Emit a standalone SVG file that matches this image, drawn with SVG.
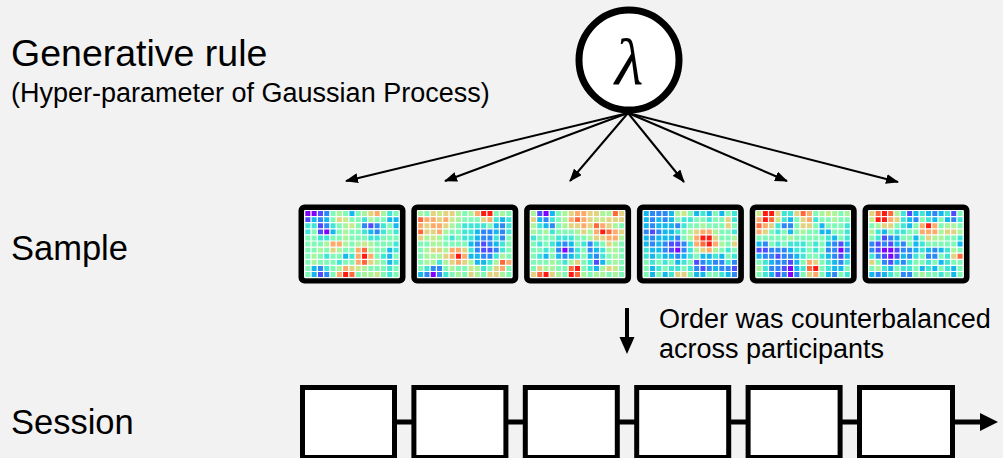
<svg xmlns="http://www.w3.org/2000/svg" xmlns:xlink="http://www.w3.org/1999/xlink" width="1003" height="458" viewBox="0 0 1003 458">
<style>
.t{font-family:"Liberation Sans",Arial,sans-serif;fill:#000}
.frame{fill:#fff;stroke:#000;stroke-width:6}
.box{fill:#fff;stroke:#000;stroke-width:5}
.hm rect{width:1px;height:1px}
.hm .bg{width:15px;height:11px;fill:#7ef9b6}
.p{fill:#7f00ff}.v{fill:#4f4bff}.b{fill:#2e87f7}.l{fill:#13b9ee}.c{fill:#3ee6d6}.g{fill:#a9f59b}.y{fill:#c9ea88}.k{fill:#e3d27f}.o{fill:#fdaa6a}.r{fill:#ff6838}.x{fill:#ff1a12}
.fan{stroke:#000;stroke-width:2;fill:none;marker-end:url(#ah)}
</style>
<defs>
<marker id="ah" markerWidth="13" markerHeight="10" refX="12" refY="5" orient="auto" markerUnits="userSpaceOnUse"><path d="M0 0L13 5L0 10z" fill="#000"/></marker>
<path id="grid" fill="none" stroke="#fff" stroke-width=".2" d="M0 0V11M1 0V11M2 0V11M3 0V11M4 0V11M5 0V11M6 0V11M7 0V11M8 0V11M9 0V11M10 0V11M11 0V11M12 0V11M13 0V11M14 0V11M15 0V11M0 0H15M0 1H15M0 2H15M0 3H15M0 4H15M0 5H15M0 6H15M0 7H15M0 8H15M0 9H15M0 10H15M0 11H15"/>
</defs>
<rect width="1003" height="458" fill="#f2f2f2"/>

<g id="label-rule">
<text class="t" x="11" y="66" font-size="37.5">Generative rule</text>
<text class="t" x="11" y="102" font-size="27">(Hyper-parameter of Gaussian Process)</text>
</g>
<g id="label-sample"><text class="t" x="11" y="260" font-size="34.5">Sample</text></g>
<g id="label-session"><text class="t" x="11" y="434" font-size="34.5">Session</text></g>
<g id="label-order">
<text class="t" x="659" y="328" font-size="27">Order was counterbalanced</text>
<text class="t" x="659" y="358" font-size="27">across participants</text>
</g>

<g id="connectors">
<line class="fan" x1="628" y1="113" x2="346" y2="181"/>
<line class="fan" x1="628" y1="113" x2="445" y2="181"/>
<line class="fan" x1="628" y1="113" x2="570" y2="181"/>
<line class="fan" x1="628" y1="113" x2="684" y2="182"/>
<line class="fan" x1="628" y1="113" x2="787" y2="181"/>
<line class="fan" x1="628" y1="113" x2="898" y2="182"/>
<line x1="627" y1="308" x2="627" y2="340" stroke="#000" stroke-width="4"/>
<path d="M619.5 337H634.5L627 354Z" fill="#000"/>
<line x1="397" y1="422" x2="982" y2="422" stroke="#000" stroke-width="5"/>
<path d="M980 413L998 422L980 431Z" fill="#000"/>
</g>

<g id="lambda">
<circle cx="629" cy="60" r="50" fill="#fff" stroke="#000" stroke-width="7"/>
<text x="629" y="84" font-size="66" font-style="italic" text-anchor="middle" font-family="'Liberation Serif','Times New Roman',serif">λ</text>
</g>

<g id="sample1">
<rect class="frame" x="301.5" y="207.5" width="101" height="73" rx="3"/>
<g class="hm" transform="translate(304.7,210.5) scale(6.3,6.1)">
<rect class="bg"/>
<rect x="0" y="0" class="p"/><rect x="1" y="0" class="p"/><rect x="2" y="0" class="v"/><rect x="3" y="0" class="b"/><rect x="5" y="0" class="g"/><rect x="7" y="0" class="l"/><rect x="9" y="0" class="g"/><rect x="10" y="0" class="k"/><rect x="11" y="0" class="o"/><rect x="12" y="0" class="g"/><rect x="13" y="0" class="c"/>
<rect x="0" y="1" class="v"/><rect x="1" y="1" class="l"/><rect x="2" y="1" class="b"/><rect x="3" y="1" class="l"/><rect x="5" y="1" class="k"/><rect x="6" y="1" class="y"/><rect x="9" y="1" class="c"/><rect x="10" y="1" class="g"/><rect x="13" y="1" class="l"/><rect x="14" y="1" class="l"/>
<rect x="0" y="2" class="c"/><rect x="1" y="2" class="c"/><rect x="2" y="2" class="v"/><rect x="3" y="2" class="b"/><rect x="4" y="2" class="c"/><rect x="6" y="2" class="g"/><rect x="7" y="2" class="y"/><rect x="9" y="2" class="b"/><rect x="10" y="2" class="v"/><rect x="11" y="2" class="b"/><rect x="12" y="2" class="c"/><rect x="14" y="2" class="l"/>
<rect x="0" y="3" class="c"/><rect x="2" y="3" class="v"/><rect x="3" y="3" class="p"/><rect x="4" y="3" class="l"/><rect x="6" y="3" class="g"/><rect x="9" y="3" class="c"/><rect x="10" y="3" class="l"/><rect x="11" y="3" class="b"/><rect x="12" y="3" class="c"/><rect x="14" y="3" class="c"/>
<rect x="2" y="4" class="c"/><rect x="3" y="4" class="c"/><rect x="6" y="4" class="g"/><rect x="10" y="4" class="c"/><rect x="11" y="4" class="c"/>
<rect x="3" y="5" class="g"/><rect x="4" y="5" class="o"/><rect x="5" y="5" class="o"/><rect x="6" y="5" class="g"/><rect x="8" y="5" class="g"/><rect x="9" y="5" class="y"/><rect x="10" y="5" class="g"/><rect x="14" y="5" class="c"/>
<rect x="2" y="6" class="g"/><rect x="4" y="6" class="k"/><rect x="5" y="6" class="g"/><rect x="8" y="6" class="o"/><rect x="9" y="6" class="r"/><rect x="10" y="6" class="g"/><rect x="13" y="6" class="l"/><rect x="14" y="6" class="c"/>
<rect x="1" y="7" class="g"/><rect x="3" y="7" class="c"/><rect x="6" y="7" class="l"/><rect x="7" y="7" class="c"/><rect x="8" y="7" class="o"/><rect x="9" y="7" class="x"/><rect x="10" y="7" class="o"/><rect x="12" y="7" class="c"/><rect x="13" y="7" class="l"/>
<rect x="1" y="8" class="g"/><rect x="5" y="8" class="c"/><rect x="8" y="8" class="o"/><rect x="9" y="8" class="r"/><rect x="10" y="8" class="k"/><rect x="11" y="8" class="g"/><rect x="13" y="8" class="l"/><rect x="14" y="8" class="c"/>
<rect x="1" y="9" class="l"/><rect x="2" y="9" class="b"/><rect x="3" y="9" class="c"/><rect x="5" y="9" class="g"/><rect x="6" y="9" class="o"/><rect x="7" y="9" class="k"/><rect x="8" y="9" class="y"/><rect x="9" y="9" class="g"/><rect x="13" y="9" class="c"/>
<rect x="1" y="10" class="l"/><rect x="2" y="10" class="v"/><rect x="3" y="10" class="b"/><rect x="5" y="10" class="o"/><rect x="6" y="10" class="x"/><rect x="7" y="10" class="r"/><rect x="9" y="10" class="g"/><rect x="10" y="10" class="g"/><rect x="11" y="10" class="y"/><rect x="13" y="10" class="c"/>
<use xlink:href="#grid"/>
</g>
</g>

<g id="sample2">
<rect class="frame" x="414.3" y="207.5" width="101" height="73" rx="3"/>
<g class="hm" transform="translate(417.5,210.5) scale(6.3,6.1)">
<rect class="bg"/>
<rect x="0" y="0" class="g"/><rect x="2" y="0" class="k"/><rect x="3" y="0" class="y"/><rect x="4" y="0" class="k"/><rect x="5" y="0" class="k"/><rect x="6" y="0" class="g"/><rect x="8" y="0" class="g"/><rect x="9" y="0" class="o"/><rect x="10" y="0" class="x"/><rect x="11" y="0" class="x"/><rect x="13" y="0" class="g"/>
<rect x="0" y="1" class="r"/><rect x="1" y="1" class="o"/><rect x="2" y="1" class="o"/><rect x="3" y="1" class="k"/><rect x="4" y="1" class="o"/><rect x="5" y="1" class="y"/><rect x="6" y="1" class="g"/><rect x="10" y="1" class="k"/><rect x="11" y="1" class="o"/><rect x="12" y="1" class="c"/><rect x="13" y="1" class="l"/><rect x="14" y="1" class="c"/>
<rect x="0" y="2" class="o"/><rect x="1" y="2" class="k"/><rect x="2" y="2" class="o"/><rect x="3" y="2" class="o"/><rect x="4" y="2" class="k"/><rect x="5" y="2" class="g"/><rect x="7" y="2" class="c"/><rect x="8" y="2" class="c"/><rect x="9" y="2" class="c"/><rect x="10" y="2" class="c"/><rect x="12" y="2" class="l"/><rect x="13" y="2" class="b"/><rect x="14" y="2" class="c"/>
<rect x="0" y="3" class="r"/><rect x="1" y="3" class="k"/><rect x="2" y="3" class="k"/><rect x="3" y="3" class="o"/><rect x="4" y="3" class="g"/><rect x="7" y="3" class="c"/><rect x="8" y="3" class="c"/><rect x="9" y="3" class="l"/><rect x="10" y="3" class="b"/><rect x="11" y="3" class="b"/><rect x="12" y="3" class="l"/><rect x="13" y="3" class="b"/><rect x="14" y="3" class="c"/>
<rect x="0" y="4" class="k"/><rect x="1" y="4" class="g"/><rect x="2" y="4" class="y"/><rect x="3" y="4" class="g"/><rect x="5" y="4" class="c"/><rect x="7" y="4" class="c"/><rect x="8" y="4" class="c"/><rect x="9" y="4" class="l"/><rect x="10" y="4" class="b"/><rect x="11" y="4" class="b"/><rect x="12" y="4" class="c"/><rect x="13" y="4" class="b"/>
<rect x="2" y="5" class="g"/><rect x="3" y="5" class="g"/><rect x="8" y="5" class="l"/><rect x="9" y="5" class="b"/><rect x="10" y="5" class="v"/><rect x="11" y="5" class="b"/><rect x="12" y="5" class="l"/><rect x="13" y="5" class="c"/>
<rect x="1" y="6" class="g"/><rect x="2" y="6" class="k"/><rect x="3" y="6" class="k"/><rect x="4" y="6" class="g"/><rect x="5" y="6" class="o"/><rect x="6" y="6" class="o"/><rect x="7" y="6" class="k"/><rect x="8" y="6" class="c"/><rect x="9" y="6" class="b"/><rect x="10" y="6" class="v"/><rect x="11" y="6" class="v"/><rect x="12" y="6" class="b"/><rect x="13" y="6" class="c"/>
<rect x="1" y="7" class="g"/><rect x="2" y="7" class="g"/><rect x="3" y="7" class="g"/><rect x="4" y="7" class="k"/><rect x="5" y="7" class="o"/><rect x="6" y="7" class="x"/><rect x="7" y="7" class="o"/><rect x="8" y="7" class="l"/><rect x="9" y="7" class="l"/><rect x="10" y="7" class="b"/><rect x="11" y="7" class="b"/><rect x="12" y="7" class="c"/><rect x="13" y="7" class="g"/>
<rect x="1" y="8" class="g"/><rect x="2" y="8" class="g"/><rect x="3" y="8" class="c"/><rect x="4" y="8" class="g"/><rect x="5" y="8" class="k"/><rect x="6" y="8" class="o"/><rect x="7" y="8" class="k"/><rect x="8" y="8" class="g"/><rect x="9" y="8" class="l"/><rect x="10" y="8" class="l"/><rect x="11" y="8" class="c"/><rect x="12" y="8" class="g"/><rect x="13" y="8" class="r"/><rect x="14" y="8" class="o"/>
<rect x="1" y="9" class="c"/><rect x="2" y="9" class="b"/><rect x="3" y="9" class="b"/><rect x="5" y="9" class="g"/><rect x="8" y="9" class="y"/><rect x="9" y="9" class="g"/><rect x="10" y="9" class="c"/><rect x="12" y="9" class="k"/><rect x="13" y="9" class="o"/>
<rect x="0" y="10" class="l"/><rect x="1" y="10" class="b"/><rect x="2" y="10" class="p"/><rect x="3" y="10" class="b"/><rect x="4" y="10" class="c"/><rect x="6" y="10" class="g"/><rect x="8" y="10" class="k"/><rect x="9" y="10" class="g"/><rect x="11" y="10" class="k"/><rect x="12" y="10" class="k"/><rect x="13" y="10" class="g"/>
<use xlink:href="#grid"/>
</g>
</g>

<g id="sample3">
<rect class="frame" x="527.1" y="207.5" width="101" height="73" rx="3"/>
<g class="hm" transform="translate(530.3,210.5) scale(6.3,6.1)">
<rect class="bg"/>
<rect x="0" y="0" class="g"/><rect x="1" y="0" class="v"/><rect x="2" y="0" class="p"/><rect x="3" y="0" class="l"/><rect x="5" y="0" class="g"/><rect x="6" y="0" class="k"/><rect x="7" y="0" class="o"/><rect x="8" y="0" class="o"/><rect x="9" y="0" class="k"/><rect x="10" y="0" class="k"/><rect x="11" y="0" class="g"/><rect x="12" y="0" class="g"/><rect x="13" y="0" class="r"/><rect x="14" y="0" class="k"/>
<rect x="0" y="1" class="k"/><rect x="1" y="1" class="l"/><rect x="2" y="1" class="b"/><rect x="3" y="1" class="c"/><rect x="5" y="1" class="g"/><rect x="6" y="1" class="o"/><rect x="7" y="1" class="r"/><rect x="8" y="1" class="o"/><rect x="9" y="1" class="k"/><rect x="10" y="1" class="y"/><rect x="11" y="1" class="y"/><rect x="12" y="1" class="k"/><rect x="13" y="1" class="k"/><rect x="14" y="1" class="k"/>
<rect x="0" y="2" class="g"/><rect x="1" y="2" class="c"/><rect x="2" y="2" class="l"/><rect x="3" y="2" class="b"/><rect x="5" y="2" class="g"/><rect x="6" y="2" class="k"/><rect x="7" y="2" class="k"/><rect x="8" y="2" class="o"/><rect x="9" y="2" class="k"/><rect x="10" y="2" class="r"/><rect x="11" y="2" class="o"/><rect x="12" y="2" class="k"/><rect x="13" y="2" class="g"/>
<rect x="0" y="3" class="g"/><rect x="2" y="3" class="g"/><rect x="3" y="3" class="c"/><rect x="7" y="3" class="g"/><rect x="8" y="3" class="k"/><rect x="9" y="3" class="g"/><rect x="10" y="3" class="o"/><rect x="11" y="3" class="x"/><rect x="12" y="3" class="r"/><rect x="13" y="3" class="o"/><rect x="14" y="3" class="k"/>
<rect x="0" y="4" class="c"/><rect x="4" y="4" class="c"/><rect x="5" y="4" class="c"/><rect x="6" y="4" class="c"/><rect x="9" y="4" class="g"/><rect x="10" y="4" class="k"/><rect x="11" y="4" class="k"/><rect x="12" y="4" class="o"/><rect x="13" y="4" class="o"/><rect x="14" y="4" class="g"/>
<rect x="1" y="5" class="c"/><rect x="3" y="5" class="c"/><rect x="4" y="5" class="l"/><rect x="5" y="5" class="b"/><rect x="6" y="5" class="l"/><rect x="8" y="5" class="c"/><rect x="9" y="5" class="b"/><rect x="10" y="5" class="c"/><rect x="12" y="5" class="k"/><rect x="13" y="5" class="g"/>
<rect x="2" y="6" class="c"/><rect x="4" y="6" class="b"/><rect x="5" y="6" class="p"/><rect x="6" y="6" class="b"/><rect x="7" y="6" class="c"/><rect x="9" y="6" class="b"/><rect x="10" y="6" class="l"/><rect x="11" y="6" class="c"/><rect x="12" y="6" class="g"/><rect x="13" y="6" class="g"/>
<rect x="1" y="7" class="c"/><rect x="2" y="7" class="l"/><rect x="4" y="7" class="l"/><rect x="5" y="7" class="b"/><rect x="6" y="7" class="l"/><rect x="7" y="7" class="c"/><rect x="9" y="7" class="l"/><rect x="10" y="7" class="b"/><rect x="11" y="7" class="c"/><rect x="13" y="7" class="g"/>
<rect x="3" y="8" class="g"/><rect x="5" y="8" class="c"/><rect x="6" y="8" class="g"/><rect x="7" y="8" class="k"/><rect x="9" y="8" class="c"/><rect x="10" y="8" class="v"/><rect x="11" y="8" class="l"/><rect x="13" y="8" class="g"/>
<rect x="1" y="9" class="k"/><rect x="2" y="9" class="g"/><rect x="3" y="9" class="g"/><rect x="6" y="9" class="r"/><rect x="7" y="9" class="x"/><rect x="9" y="9" class="c"/><rect x="10" y="9" class="l"/><rect x="11" y="9" class="g"/><rect x="12" y="9" class="k"/><rect x="13" y="9" class="y"/>
<rect x="0" y="10" class="k"/><rect x="1" y="10" class="r"/><rect x="2" y="10" class="x"/><rect x="3" y="10" class="k"/><rect x="4" y="10" class="g"/><rect x="6" y="10" class="x"/><rect x="7" y="10" class="r"/><rect x="8" y="10" class="g"/><rect x="10" y="10" class="g"/><rect x="11" y="10" class="g"/><rect x="13" y="10" class="g"/>
<use xlink:href="#grid"/>
</g>
</g>

<g id="sample4">
<rect class="frame" x="639.9" y="207.5" width="101" height="73" rx="3"/>
<g class="hm" transform="translate(643.1,210.5) scale(6.3,6.1)">
<rect class="bg"/>
<rect x="0" y="0" class="l"/><rect x="1" y="0" class="b"/><rect x="2" y="0" class="b"/><rect x="3" y="0" class="b"/><rect x="4" y="0" class="l"/><rect x="5" y="0" class="g"/><rect x="6" y="0" class="y"/><rect x="8" y="0" class="l"/><rect x="9" y="0" class="c"/><rect x="10" y="0" class="l"/><rect x="12" y="0" class="l"/><rect x="14" y="0" class="c"/>
<rect x="0" y="1" class="l"/><rect x="1" y="1" class="b"/><rect x="2" y="1" class="l"/><rect x="3" y="1" class="b"/><rect x="4" y="1" class="l"/><rect x="6" y="1" class="c"/><rect x="7" y="1" class="c"/><rect x="10" y="1" class="c"/><rect x="13" y="1" class="k"/><rect x="14" y="1" class="c"/>
<rect x="0" y="2" class="l"/><rect x="1" y="2" class="b"/><rect x="2" y="2" class="l"/><rect x="3" y="2" class="l"/><rect x="4" y="2" class="l"/><rect x="5" y="2" class="b"/><rect x="6" y="2" class="c"/><rect x="9" y="2" class="g"/><rect x="13" y="2" class="k"/>
<rect x="0" y="3" class="b"/><rect x="1" y="3" class="v"/><rect x="2" y="3" class="b"/><rect x="3" y="3" class="l"/><rect x="4" y="3" class="l"/><rect x="5" y="3" class="c"/><rect x="7" y="3" class="g"/><rect x="8" y="3" class="k"/><rect x="9" y="3" class="o"/><rect x="10" y="3" class="o"/><rect x="11" y="3" class="g"/><rect x="14" y="3" class="c"/>
<rect x="0" y="4" class="l"/><rect x="1" y="4" class="b"/><rect x="2" y="4" class="l"/><rect x="3" y="4" class="l"/><rect x="4" y="4" class="l"/><rect x="5" y="4" class="b"/><rect x="7" y="4" class="g"/><rect x="8" y="4" class="o"/><rect x="9" y="4" class="x"/><rect x="10" y="4" class="x"/><rect x="11" y="4" class="k"/><rect x="14" y="4" class="g"/>
<rect x="0" y="5" class="l"/><rect x="1" y="5" class="b"/><rect x="2" y="5" class="l"/><rect x="3" y="5" class="b"/><rect x="4" y="5" class="v"/><rect x="5" y="5" class="v"/><rect x="6" y="5" class="b"/><rect x="7" y="5" class="c"/><rect x="8" y="5" class="o"/><rect x="9" y="5" class="r"/><rect x="10" y="5" class="x"/><rect x="11" y="5" class="o"/><rect x="12" y="5" class="g"/><rect x="14" y="5" class="k"/>
<rect x="0" y="6" class="c"/><rect x="1" y="6" class="l"/><rect x="2" y="6" class="l"/><rect x="3" y="6" class="b"/><rect x="4" y="6" class="v"/><rect x="5" y="6" class="p"/><rect x="6" y="6" class="b"/><rect x="7" y="6" class="c"/><rect x="8" y="6" class="g"/><rect x="9" y="6" class="k"/><rect x="10" y="6" class="o"/><rect x="11" y="6" class="g"/><rect x="13" y="6" class="c"/>
<rect x="0" y="7" class="c"/><rect x="1" y="7" class="l"/><rect x="2" y="7" class="c"/><rect x="3" y="7" class="l"/><rect x="4" y="7" class="l"/><rect x="5" y="7" class="b"/><rect x="6" y="7" class="l"/><rect x="7" y="7" class="c"/><rect x="9" y="7" class="l"/><rect x="10" y="7" class="l"/><rect x="11" y="7" class="c"/><rect x="12" y="7" class="l"/><rect x="14" y="7" class="c"/>
<rect x="1" y="8" class="c"/><rect x="3" y="8" class="c"/><rect x="5" y="8" class="l"/><rect x="6" y="8" class="c"/><rect x="8" y="8" class="v"/><rect x="9" y="8" class="b"/><rect x="10" y="8" class="l"/><rect x="11" y="8" class="b"/><rect x="12" y="8" class="b"/><rect x="13" y="8" class="c"/><rect x="14" y="8" class="b"/>
<rect x="1" y="9" class="l"/><rect x="2" y="9" class="c"/><rect x="4" y="9" class="c"/><rect x="5" y="9" class="c"/><rect x="7" y="9" class="c"/><rect x="8" y="9" class="b"/><rect x="9" y="9" class="v"/><rect x="10" y="9" class="b"/><rect x="11" y="9" class="l"/><rect x="12" y="9" class="b"/><rect x="13" y="9" class="b"/><rect x="14" y="9" class="v"/>
<rect x="1" y="10" class="l"/><rect x="3" y="10" class="l"/><rect x="4" y="10" class="c"/><rect x="5" y="10" class="k"/><rect x="6" y="10" class="k"/><rect x="8" y="10" class="l"/><rect x="9" y="10" class="l"/><rect x="12" y="10" class="c"/><rect x="13" y="10" class="l"/><rect x="14" y="10" class="b"/>
<use xlink:href="#grid"/>
</g>
</g>

<g id="sample5">
<rect class="frame" x="752.7" y="207.5" width="101" height="73" rx="3"/>
<g class="hm" transform="translate(755.9,210.5) scale(6.3,6.1)">
<rect class="bg"/>
<rect x="0" y="0" class="y"/><rect x="1" y="0" class="x"/><rect x="2" y="0" class="x"/><rect x="3" y="0" class="k"/><rect x="4" y="0" class="c"/><rect x="5" y="0" class="c"/><rect x="6" y="0" class="k"/><rect x="7" y="0" class="r"/><rect x="8" y="0" class="o"/><rect x="10" y="0" class="g"/><rect x="11" y="0" class="y"/><rect x="12" y="0" class="g"/><rect x="14" y="0" class="g"/>
<rect x="0" y="1" class="o"/><rect x="1" y="1" class="x"/><rect x="2" y="1" class="r"/><rect x="3" y="1" class="y"/><rect x="4" y="1" class="c"/><rect x="5" y="1" class="l"/><rect x="7" y="1" class="k"/><rect x="8" y="1" class="o"/><rect x="9" y="1" class="c"/><rect x="12" y="1" class="g"/>
<rect x="0" y="2" class="r"/><rect x="1" y="2" class="o"/><rect x="2" y="2" class="k"/><rect x="3" y="2" class="c"/><rect x="4" y="2" class="b"/><rect x="5" y="2" class="b"/><rect x="7" y="2" class="k"/><rect x="8" y="2" class="k"/><rect x="10" y="2" class="l"/><rect x="14" y="2" class="c"/>
<rect x="0" y="3" class="o"/><rect x="1" y="3" class="k"/><rect x="3" y="3" class="c"/><rect x="5" y="3" class="l"/><rect x="7" y="3" class="g"/><rect x="10" y="3" class="l"/><rect x="11" y="3" class="l"/><rect x="14" y="3" class="c"/>
<rect x="5" y="4" class="g"/><rect x="11" y="4" class="c"/><rect x="12" y="4" class="l"/><rect x="14" y="4" class="c"/>
<rect x="0" y="5" class="l"/><rect x="1" y="5" class="b"/><rect x="3" y="5" class="c"/><rect x="5" y="5" class="c"/><rect x="6" y="5" class="c"/><rect x="7" y="5" class="c"/><rect x="9" y="5" class="c"/><rect x="11" y="5" class="l"/><rect x="12" y="5" class="b"/><rect x="13" y="5" class="v"/><rect x="14" y="5" class="l"/>
<rect x="0" y="6" class="v"/><rect x="1" y="6" class="v"/><rect x="2" y="6" class="b"/><rect x="3" y="6" class="b"/><rect x="4" y="6" class="b"/><rect x="5" y="6" class="l"/><rect x="6" y="6" class="c"/><rect x="7" y="6" class="c"/><rect x="9" y="6" class="c"/><rect x="11" y="6" class="b"/><rect x="12" y="6" class="b"/><rect x="13" y="6" class="p"/><rect x="14" y="6" class="b"/>
<rect x="0" y="7" class="l"/><rect x="1" y="7" class="b"/><rect x="2" y="7" class="b"/><rect x="3" y="7" class="v"/><rect x="4" y="7" class="b"/><rect x="5" y="7" class="b"/><rect x="6" y="7" class="l"/><rect x="7" y="7" class="c"/><rect x="10" y="7" class="c"/><rect x="11" y="7" class="l"/><rect x="12" y="7" class="b"/><rect x="13" y="7" class="v"/><rect x="14" y="7" class="l"/>
<rect x="1" y="8" class="c"/><rect x="2" y="8" class="l"/><rect x="3" y="8" class="b"/><rect x="4" y="8" class="b"/><rect x="5" y="8" class="v"/><rect x="6" y="8" class="l"/><rect x="8" y="8" class="o"/><rect x="9" y="8" class="k"/><rect x="11" y="8" class="c"/><rect x="12" y="8" class="l"/><rect x="13" y="8" class="b"/><rect x="14" y="8" class="c"/>
<rect x="0" y="9" class="g"/><rect x="1" y="9" class="c"/><rect x="2" y="9" class="b"/><rect x="3" y="9" class="b"/><rect x="4" y="9" class="v"/><rect x="5" y="9" class="p"/><rect x="6" y="9" class="l"/><rect x="7" y="9" class="c"/><rect x="8" y="9" class="r"/><rect x="9" y="9" class="x"/><rect x="11" y="9" class="c"/><rect x="12" y="9" class="l"/><rect x="13" y="9" class="l"/>
<rect x="1" y="10" class="c"/><rect x="2" y="10" class="l"/><rect x="3" y="10" class="v"/><rect x="4" y="10" class="b"/><rect x="5" y="10" class="p"/><rect x="6" y="10" class="b"/><rect x="8" y="10" class="k"/><rect x="9" y="10" class="o"/><rect x="11" y="10" class="l"/><rect x="12" y="10" class="b"/><rect x="14" y="10" class="c"/>
<use xlink:href="#grid"/>
</g>
</g>

<g id="sample6">
<rect class="frame" x="865.5" y="207.5" width="101" height="73" rx="3"/>
<g class="hm" transform="translate(868.7,210.5) scale(6.3,6.1)">
<rect class="bg"/>
<rect x="0" y="0" class="k"/><rect x="1" y="0" class="r"/><rect x="2" y="0" class="x"/><rect x="3" y="0" class="r"/><rect x="4" y="0" class="g"/><rect x="5" y="0" class="c"/><rect x="6" y="0" class="v"/><rect x="7" y="0" class="l"/><rect x="8" y="0" class="c"/><rect x="9" y="0" class="l"/><rect x="10" y="0" class="b"/><rect x="11" y="0" class="l"/><rect x="12" y="0" class="c"/><rect x="13" y="0" class="v"/>
<rect x="0" y="1" class="y"/><rect x="1" y="1" class="x"/><rect x="2" y="1" class="x"/><rect x="3" y="1" class="o"/><rect x="4" y="1" class="k"/><rect x="5" y="1" class="c"/><rect x="6" y="1" class="l"/><rect x="7" y="1" class="b"/><rect x="9" y="1" class="c"/><rect x="10" y="1" class="l"/><rect x="12" y="1" class="l"/><rect x="13" y="1" class="b"/><rect x="14" y="1" class="c"/>
<rect x="1" y="2" class="g"/><rect x="2" y="2" class="k"/><rect x="3" y="2" class="k"/><rect x="5" y="2" class="c"/><rect x="6" y="2" class="l"/><rect x="8" y="2" class="o"/><rect x="9" y="2" class="x"/><rect x="10" y="2" class="o"/><rect x="12" y="2" class="g"/><rect x="13" y="2" class="g"/>
<rect x="0" y="3" class="g"/><rect x="1" y="3" class="c"/><rect x="2" y="3" class="l"/><rect x="4" y="3" class="c"/><rect x="5" y="3" class="c"/><rect x="8" y="3" class="o"/><rect x="9" y="3" class="o"/><rect x="10" y="3" class="o"/><rect x="11" y="3" class="g"/><rect x="12" y="3" class="k"/><rect x="13" y="3" class="k"/><rect x="14" y="3" class="g"/>
<rect x="1" y="4" class="c"/><rect x="2" y="4" class="v"/><rect x="3" y="4" class="b"/><rect x="4" y="4" class="l"/><rect x="7" y="4" class="l"/><rect x="9" y="4" class="k"/><rect x="10" y="4" class="g"/><rect x="11" y="4" class="g"/><rect x="14" y="4" class="c"/>
<rect x="0" y="5" class="b"/><rect x="1" y="5" class="v"/><rect x="2" y="5" class="b"/><rect x="3" y="5" class="v"/><rect x="4" y="5" class="l"/><rect x="5" y="5" class="b"/><rect x="7" y="5" class="l"/><rect x="8" y="5" class="c"/><rect x="14" y="5" class="l"/>
<rect x="0" y="6" class="b"/><rect x="1" y="6" class="v"/><rect x="2" y="6" class="p"/><rect x="3" y="6" class="p"/><rect x="4" y="6" class="v"/><rect x="5" y="6" class="b"/><rect x="6" y="6" class="b"/><rect x="7" y="6" class="l"/><rect x="8" y="6" class="c"/><rect x="9" y="6" class="l"/><rect x="10" y="6" class="b"/><rect x="11" y="6" class="l"/><rect x="12" y="6" class="c"/><rect x="13" y="6" class="g"/>
<rect x="0" y="7" class="c"/><rect x="1" y="7" class="b"/><rect x="2" y="7" class="v"/><rect x="3" y="7" class="p"/><rect x="4" y="7" class="v"/><rect x="5" y="7" class="l"/><rect x="6" y="7" class="b"/><rect x="7" y="7" class="c"/><rect x="9" y="7" class="b"/><rect x="10" y="7" class="b"/><rect x="12" y="7" class="c"/><rect x="13" y="7" class="k"/><rect x="14" y="7" class="r"/>
<rect x="0" y="8" class="k"/><rect x="2" y="8" class="b"/><rect x="3" y="8" class="v"/><rect x="4" y="8" class="l"/><rect x="5" y="8" class="b"/><rect x="6" y="8" class="c"/><rect x="9" y="8" class="c"/><rect x="11" y="8" class="l"/><rect x="12" y="8" class="c"/>
<rect x="1" y="9" class="g"/><rect x="2" y="9" class="c"/><rect x="3" y="9" class="l"/><rect x="5" y="9" class="c"/><rect x="6" y="9" class="c"/><rect x="8" y="9" class="l"/><rect x="9" y="9" class="c"/><rect x="10" y="9" class="l"/><rect x="12" y="9" class="c"/><rect x="13" y="9" class="l"/>
<rect x="0" y="10" class="l"/><rect x="1" y="10" class="b"/><rect x="2" y="10" class="l"/><rect x="3" y="10" class="c"/><rect x="5" y="10" class="b"/><rect x="6" y="10" class="b"/><rect x="8" y="10" class="g"/><rect x="11" y="10" class="c"/><rect x="13" y="10" class="l"/>
<use xlink:href="#grid"/>
</g>
</g>

<g id="session1"><rect class="box" x="302.5" y="387.5" width="92" height="70"/></g>
<g id="session2"><rect class="box" x="413.9" y="387.5" width="92" height="70"/></g>
<g id="session3"><rect class="box" x="525.3" y="387.5" width="92" height="70"/></g>
<g id="session4"><rect class="box" x="636.7" y="387.5" width="92" height="70"/></g>
<g id="session5"><rect class="box" x="748.1" y="387.5" width="92" height="70"/></g>
<g id="session6"><rect class="box" x="859.5" y="387.5" width="93" height="70"/></g>
</svg>
